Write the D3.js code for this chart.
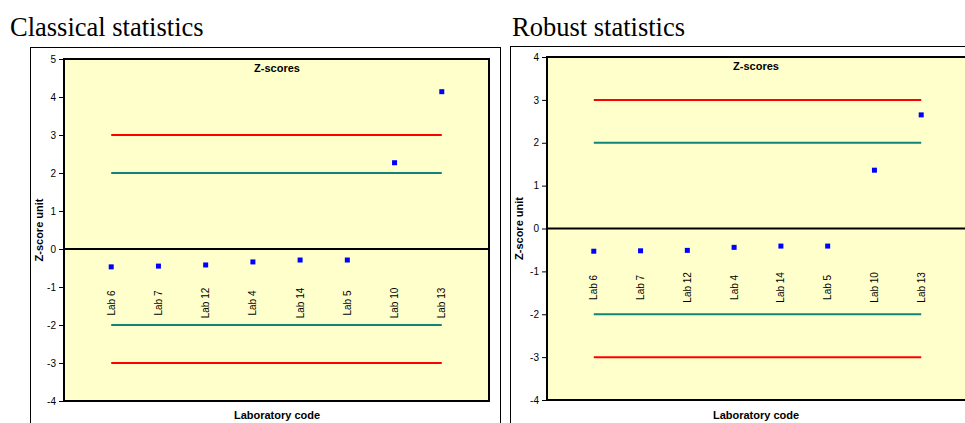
<!DOCTYPE html>
<html><head><meta charset="utf-8">
<script src="https://cdn.jsdelivr.net/npm/d3@7"></script>
<style>body{margin:0;background:#fff}svg{display:block}</style>
</head><body><svg id="c" width="965" height="423"></svg>
<script>
const categories = ["Lab 6","Lab 7","Lab 12","Lab 4","Lab 14","Lab 5","Lab 10","Lab 13"];
const classicalZ = [-0.47,-0.45,-0.42,-0.34,-0.29,-0.29,2.27,4.14];
const robustZ = [-0.53,-0.52,-0.51,-0.44,-0.41,-0.41,1.36,2.65];
const classicalTicks = [-4,-3,-2,-1,0,1,2,3,4,5];
const robustTicks = [-4,-3,-2,-1,0,1,2,3,4];
const warningLimits = [-2,2];
const actionLimits = [-3,3];
const panelTitles = ["Classical statistics","Robust statistics"];

const svg = d3.select("#c");

function panel(cfg){
  const g = svg.append("g");
  g.append("text").attr("x",cfg.titleX).attr("y",36)
    .attr("font-family","'Liberation Serif','Times New Roman',serif")
    .attr("font-size",26.5).attr("fill","#000").text(cfg.title);
  g.append("rect").attr("x",cfg.box[0]+0.5).attr("y",cfg.box[1]+0.5)
    .attr("width",cfg.box[2]).attr("height",cfg.box[3])
    .attr("fill","#fff").attr("stroke","#000").attr("stroke-width",1);
  const x = d3.scalePoint().domain(categories).range([cfg.L,cfg.R]).padding(1);
  const y = d3.scaleLinear().domain([d3.min(cfg.ticks),d3.max(cfg.ticks)]).range([cfg.B,cfg.T]);
  g.append("rect").attr("x",cfg.L).attr("y",cfg.T).attr("width",cfg.R-cfg.L).attr("height",cfg.B-cfg.T)
    .attr("fill","#FFFFCC");
  // y axis
  const ax = g.append("g").attr("transform",`translate(${cfg.L},0)`)
    .call(d3.axisLeft(y).tickValues(cfg.ticks).tickSize(5).tickPadding(3).tickFormat(d=>String(d)));
  ax.select(".domain").remove();
  ax.selectAll("line").attr("stroke","#000");
  ax.selectAll("text").attr("font-family","'Liberation Sans',Arial,sans-serif").attr("font-size",10).attr("fill","#000");
  // limit lines
  const first = x(categories[0]), last = x(categories[categories.length-1]);
  actionLimits.forEach(v=>g.append("line").attr("x1",first).attr("x2",last).attr("y1",y(v)).attr("y2",y(v))
    .attr("stroke","#FF0000").attr("stroke-width",2));
  warningLimits.forEach(v=>g.append("line").attr("x1",first).attr("x2",last).attr("y1",y(v)).attr("y2",y(v))
    .attr("stroke","#108478").attr("stroke-width",2));
  // zero line
  g.append("line").attr("x1",cfg.L).attr("x2",cfg.R).attr("y1",y(0)).attr("y2",y(0))
    .attr("stroke","#000").attr("stroke-width",2);
  // category labels
  g.selectAll(".cl").data(categories).enter().append("text")
    .attr("transform",d=>`translate(${x(d)+3.5},${y(-1)+16}) rotate(-90)`)
    .attr("text-anchor","middle")
    .attr("font-family","'Liberation Sans',Arial,sans-serif").attr("font-size",10).attr("fill","#000")
    .text(d=>d);
  // points
  g.selectAll(".pt").data(cfg.values).enter().append("rect")
    .attr("x",(d,i)=>x(categories[i])-2.5).attr("y",d=>y(d)-2.5)
    .attr("width",5).attr("height",5).attr("fill","#0000FF");
  // plot border
  g.append("rect").attr("x",cfg.L).attr("y",cfg.T).attr("width",cfg.R-cfg.L).attr("height",cfg.B-cfg.T)
    .attr("fill","none").attr("stroke","#000").attr("stroke-width",2);
  g.append("text").attr("x",cfg.zx).attr("y",cfg.T+13).attr("text-anchor","middle")
    .attr("font-family","'Liberation Sans',Arial,sans-serif").attr("font-size",11).attr("font-weight","bold")
    .text("Z-scores");
  g.append("text").attr("x",cfg.zx).attr("y",419).attr("text-anchor","middle")
    .attr("font-family","'Liberation Sans',Arial,sans-serif").attr("font-size",11).attr("font-weight","bold")
    .text("Laboratory code");
  g.append("text").attr("transform",`translate(${cfg.ylx},${(cfg.T+cfg.B)/2}) rotate(-90)`)
    .attr("text-anchor","middle")
    .attr("font-family","'Liberation Sans',Arial,sans-serif").attr("font-size",11).attr("font-weight","bold")
    .text("Z-score unit");
}

panel({title:panelTitles[0],titleX:10,box:[30,47,470,400],L:64,R:489,T:59,B:401,ticks:classicalTicks,values:classicalZ,zx:277,ylx:43});
panel({title:panelTitles[1],titleX:512,box:[510,46,470,400],L:547,R:968,T:57,B:400,ticks:robustTicks,values:robustZ,zx:756,ylx:523});
</script></body></html>
